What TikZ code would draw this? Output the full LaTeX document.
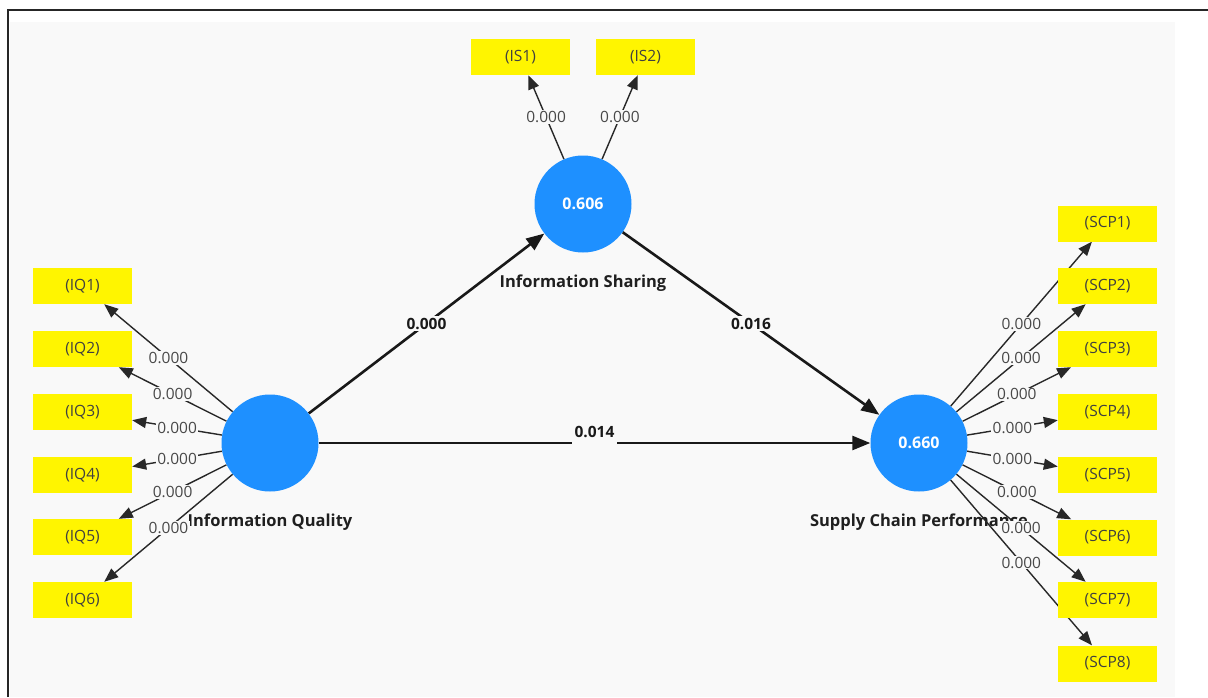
\documentclass[tikz,border=0pt]{standalone}
\usepackage{fontspec}
\setmainfont{Open Sans}
\usetikzlibrary{arrows.meta}

\definecolor{panel}{RGB}{249,249,249}
\definecolor{lvblue}{RGB}{30,144,255}
\definecolor{indyellow}{RGB}{255,245,0}
\definecolor{wgray}{RGB}{72,72,72}
\definecolor{linegray}{RGB}{40,40,40}

\pgfdeclarelayer{back}
\pgfdeclarelayer{edges}
\pgfsetlayers{back,edges,main}

\begin{document}
\begin{tikzpicture}[x=1pt,y=-1pt,
  latent/.style={circle, fill=lvblue, minimum size=97pt, inner sep=0pt,
    text=white, font=\fontsize{16}{18}\selectfont\bfseries},
  indicator/.style={rectangle, fill=indyellow, minimum width=99pt,
    minimum height=36pt, inner sep=0pt, text=black!75,
    font=\fontsize{15.5}{17}\selectfont},
  lvname/.style={inner sep=0pt, text=black!88,
    font=\fontsize{16.5}{18}\selectfont\bfseries},
  outer/.style={draw=linegray, line width=1.4pt,
    -{Triangle[length=14pt,width=11pt]}},
  innerpath/.style={draw=black!90, line width=2.6pt,
    -{Triangle[length=18pt,width=14pt]}},
  wlbl/.style={fill=panel, inner xsep=1.5pt, inner ysep=1pt, text=wgray,
    font=\fontsize{15.5}{17}\selectfont},
  plbl/.style={fill=panel, inner xsep=3pt, inner ysep=2pt, text=black!90,
    font=\fontsize{15.5}{17}\selectfont\bfseries},
]
\useasboundingbox (0,0) rectangle (1208,697);

% canvas, frame and construct names
\begin{pgfonlayer}{back}
  \fill[white] (0,0) rectangle (1208,697);
  \fill[panel] (10,22) rectangle (1175,697);
  \draw[line width=2pt, black!85] (7.5,697) -- (7.5,9.5) -- (1208,9.5);
  \node[lvname] (iqname)  at (270,522) {Information Quality};
  \node[lvname] (isname)  at (583,283) {Information Sharing};
  \node[lvname] (scpname) at (919,522) {Supply Chain Performance};
\end{pgfonlayer}

% latent variables
\node[latent] (iq)  at (270,443) {};
\node[latent] (is)  at (583,204) {0.606};
\node[latent] (scp) at (919,443) {0.660};

% indicators
\foreach \i/\y in {1/286,2/349,3/412,4/475,5/537,6/600}
  \node[indicator] (iq\i) at (82.5,\y) {(IQ\i)};
\node[indicator] (is1) at (520.5,57) {(IS1)};
\node[indicator] (is2) at (645.5,57) {(IS2)};
\foreach \i/\y in {1/223.5,2/286,3/349,4/412,5/475,6/537.5,7/600,8/663.5}
  \node[indicator] (scp\i) at (1107.5,\y) {(SCP\i)};

% outer loadings and structural paths
\begin{pgfonlayer}{edges}
  \foreach \i in {1,...,6}
    \draw[outer] (iq) -- node[wlbl] (liq\i) {0.000} (iq\i);
  \foreach \i in {1,2}
    \draw[outer] (is) -- node[wlbl] (lis\i) {0.000} (is\i);
  \foreach \i in {1,...,8}
    \draw[outer] (scp) -- node[wlbl] (lscp\i) {0.000} (scp\i);

  \draw[innerpath] (iq) -- node[plbl] (piqis) {0.000} (is);
  \draw[innerpath] (is) -- node[plbl] (pisscp) {0.016} (scp);
  \draw[innerpath] (iq) -- node[plbl, yshift=11pt, inner ysep=9pt] (piqscp) {0.014} (scp);
\end{pgfonlayer}
\end{tikzpicture}
\end{document}
